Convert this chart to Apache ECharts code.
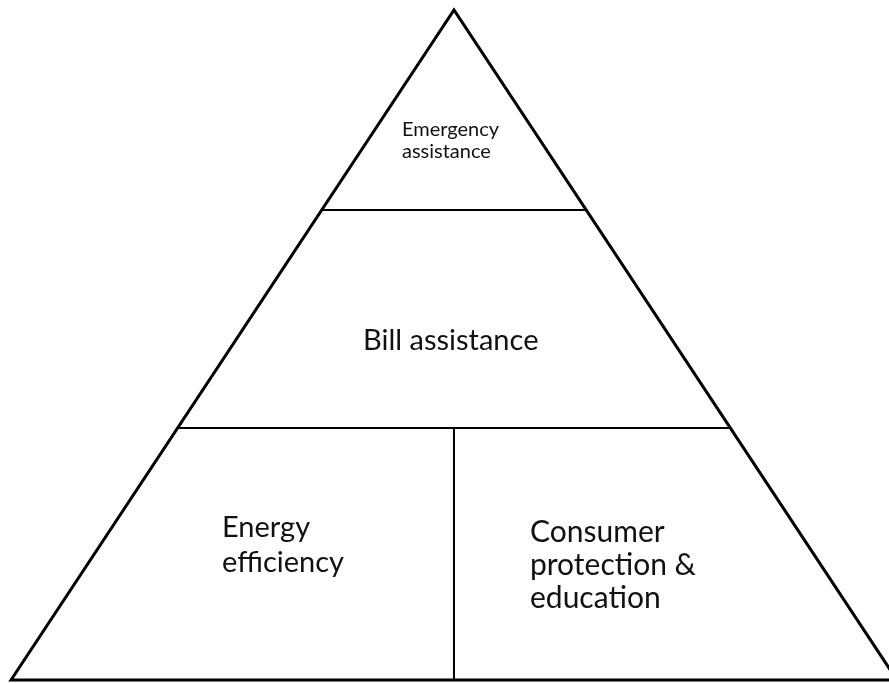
<!DOCTYPE html>
<html><head><meta charset="utf-8">
<script src="https://cdn.jsdelivr.net/npm/echarts@6/dist/echarts.min.js"></script>
<style>html,body{margin:0;padding:0;background:#fff}#c{width:889px;height:683px}</style>
</head><body><div id="c"></div><script>
// Pyramid tiers, top to bottom
const tierNames = ['Emergency\nassistance', 'Bill assistance', 'Energy\nefficiency', 'Consumer\nprotection &\neducation'];
// heights of the horizontal dividers, as a fraction of pyramid height from the base
const dividerHeights = [0.7015, 0.376];
// x position of the vertical divider in the bottom tier (-1 = left corner, 1 = right corner)
const bottomSplit = [0];

// layout (not data): label anchors in axis units, fonts
const labelLayout = [
  {x: -0.1174, y: 0.8052, size: 20, lh: 22},
  {x: -0.2054, y: 0.506, size: 29, lh: 32},
  {x: -0.5237, y: 0.2007, size: 29, lh: 35},
  {x: 0.1716, y: 0.1716, size: 30, lh: 33}
];
const FONT = 'Lato';

const b0 = dividerHeights[0], b1 = dividerHeights[1], s = bottomSplit[0];
const half = h => 1 - h;
const polys = [
  [[-half(b0), b0], [0, 1], [half(b0), b0]],
  [[-half(b1), b1], [-half(b0), b0], [half(b0), b0], [half(b1), b1]],
  [[-1, 0], [-half(b1), b1], [s, b1], [s, 0]],
  [[s, 0], [s, b1], [half(b1), b1], [1, 0]]
];

const chart = echarts.init(document.getElementById('c'), null, {renderer: 'canvas'});
chart.setOption({
  backgroundColor: '#fff',
  animation: false,
  grid: {left: 11, right: 0, top: 10, bottom: 3},
  // right corner of the pyramid runs just past the picture's edge
  xAxis: {type: 'value', min: -1, max: 0.982, show: false},
  yAxis: {type: 'value', min: 0, max: 1, show: false},
  series: [{
    type: 'custom',
    clip: false,
    data: tierNames.map((n, i) => [i]),
    renderItem: function (params, api) {
      const i = api.value(0);
      const pts = polys[i].map(p => api.coord(p));
      const L = labelLayout[i];
      const lp = api.coord([L.x, L.y]);
      return {
        type: 'group',
        children: [
          {type: 'polygon', shape: {points: pts}, style: {fill: '#fff', stroke: '#000', lineWidth: 2}},
          {type: 'text', x: lp[0], y: lp[1], style: {text: tierNames[i], fill: '#111', font: L.size + 'px ' + FONT, lineHeight: L.lh, align: 'left', verticalAlign: 'middle'}}
        ]
      };
    }
  }, {
    type: 'custom',
    clip: false,
    data: [[0]],
    renderItem: function (params, api) {
      const pts = [[-1, 0], [0, 1], [1, 0]].map(p => api.coord(p));
      return {type: 'polygon', shape: {points: pts}, style: {fill: 'none', stroke: '#000', lineWidth: 3}, z2: 10};
    }
  }]
});
</script></body></html>
